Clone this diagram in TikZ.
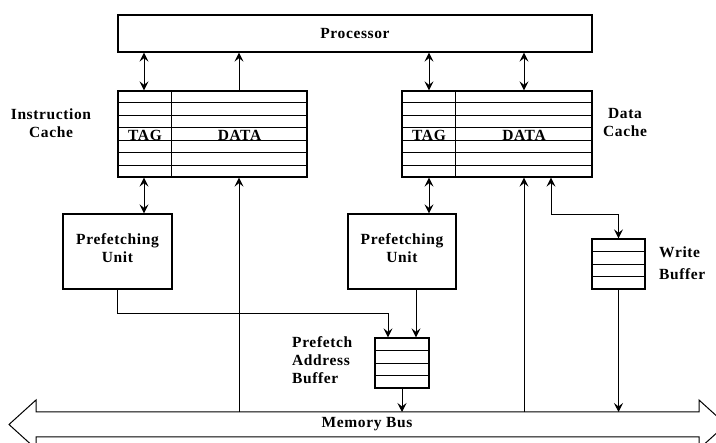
\documentclass[tikz,border=0pt]{standalone}
\usepackage{fontspec}
\setmainfont{Liberation Serif}[LetterSpace=4]
\usetikzlibrary{arrows.meta,calc}

\tikzset{
    >={Stealth[length=9pt,width=9pt,inset=3.5pt]},
    box/.style={draw, line width=1.3pt, inner sep=0pt},
    lbl/.style={font=\fontsize{15.5}{18}\selectfont\bfseries, inner sep=0pt},
    link/.style={line width=0.8pt},
}

\begin{document}
\begin{tikzpicture}[x=1pt,y=-1pt]
    \clip (0,0) rectangle (716,443);

    % Draw processor
    \node[box, lbl, minimum width=474pt, minimum height=37pt] (proc) at (355,33.5) {Processor};

    % Draw instruction cache (7 rows, tag column)
    \node[box, minimum width=189pt, minimum height=86pt] (icache) at (212.5,134) {};
    \foreach \k in {1,...,6}
        \draw[link] ($(icache.north west)!\k/7!(icache.south west)$) -- ($(icache.north east)!\k/7!(icache.south east)$);
    \draw[box] ([xshift=54pt]icache.north west) -- ([xshift=54pt]icache.south west);
    \node[lbl, anchor=base] (itag) at (145,140.5) {TAG};
    \node[lbl, anchor=base] (idata) at (239.5,140.5) {DATA};
    \node[lbl, align=center] (ilbl) at (51,123) {Instruction\\Cache};

    % Draw data cache
    \node[box, minimum width=190pt, minimum height=86pt] (dcache) at (497,134) {};
    \foreach \k in {1,...,6}
        \draw[link] ($(dcache.north west)!\k/7!(dcache.south west)$) -- ($(dcache.north east)!\k/7!(dcache.south east)$);
    \draw[box] ([xshift=54pt]dcache.north west) -- ([xshift=54pt]dcache.south west);
    \node[lbl, anchor=base] (dtag) at (429,140.5) {TAG};
    \node[lbl, anchor=base] (ddata) at (524,140.5) {DATA};
    \node[lbl, align=center] (dlbl) at (625,123) {Data\\Cache};

    % Columns for the vertical links
    \coordinate (ci) at (144,0);
    \coordinate (di) at (239,0);
    \coordinate (cd) at (429,0);
    \coordinate (dd) at (524,0);
    \coordinate (wd) at (551,0);

    % Processor <-> caches
    \draw[link,<->] (proc.south -| ci) -- (icache.north -| ci);
    \draw[link,->] (icache.north -| di) -- (proc.south -| di);
    \draw[link,<->] (proc.south -| cd) -- (dcache.north -| cd);
    \draw[link,<->] (proc.south -| dd) -- (dcache.north -| dd);

    % Draw prefetching units
    \node[box, lbl, align=center, minimum width=109pt, minimum height=75pt] (pf1) at (117.5,251.5) {Prefetching\\Unit\\[-12pt]};
    \node[box, lbl, align=center, minimum width=108pt, minimum height=75pt] (pf2) at (402,251.5) {Prefetching\\Unit\\[-12pt]};
    \draw[link,<->] (icache.south -| ci) -- (pf1.north -| ci);
    \draw[link,<->] (dcache.south -| cd) -- (pf2.north -| cd);

    % Draw prefetch address buffer
    \node[box, minimum width=54pt, minimum height=50pt] (pab) at (402,363) {};
    \foreach \k in {1,2,3}
        \draw[link] ($(pab.north west)!\k/4!(pab.south west)$) -- ($(pab.north east)!\k/4!(pab.south east)$);
    \node[lbl, align=left, anchor=west] (pablbl) at (292,360) {Prefetch\\Address\\Buffer};
    \draw[link,->] (pf1.south) -- ++(0,24) -| ([xshift=-14pt]pab.north);
    \draw[link,->] ([xshift=14pt]pf2.south) -- ([xshift=14pt]pab.north);

    % Draw write buffer
    \node[box, minimum width=53pt, minimum height=50pt] (wbuf) at (618.5,264) {};
    \foreach \k in {1,2,3}
        \draw[link] ($(wbuf.north west)!\k/4!(wbuf.south west)$) -- ($(wbuf.north east)!\k/4!(wbuf.south east)$);
    \node[lbl, align=left, anchor=west] (wblbl) at (659,263) {Write\\[4pt]Buffer};
    \draw[link,<->] (dcache.south -| wd) -- ++(0,37) -| (wbuf.north);

    % Draw memory bus (double arrow, cut by the bottom edge)
    \draw[line width=1pt] (36,412) -- (699,412) -- (699,400) -- (726,424.5) -- (699,449) -- (699,437)
        -- (36,437) -- (36,449) -- (9,424.5) -- (36,400) -- cycle;
    \node[lbl] (bus) at (367,424.5) {Memory Bus};
    \coordinate (busT) at (0,412);

    % Bus links
    \draw[link,->] (busT -| di) -- (icache.south -| di);
    \draw[link,->] (busT -| dd) -- (dcache.south -| dd);
    \draw[link,->] (pab.south) -- (pab.south |- busT);
    \draw[link,->] (wbuf.south) -- (wbuf.south |- busT);
\end{tikzpicture}
\end{document}
